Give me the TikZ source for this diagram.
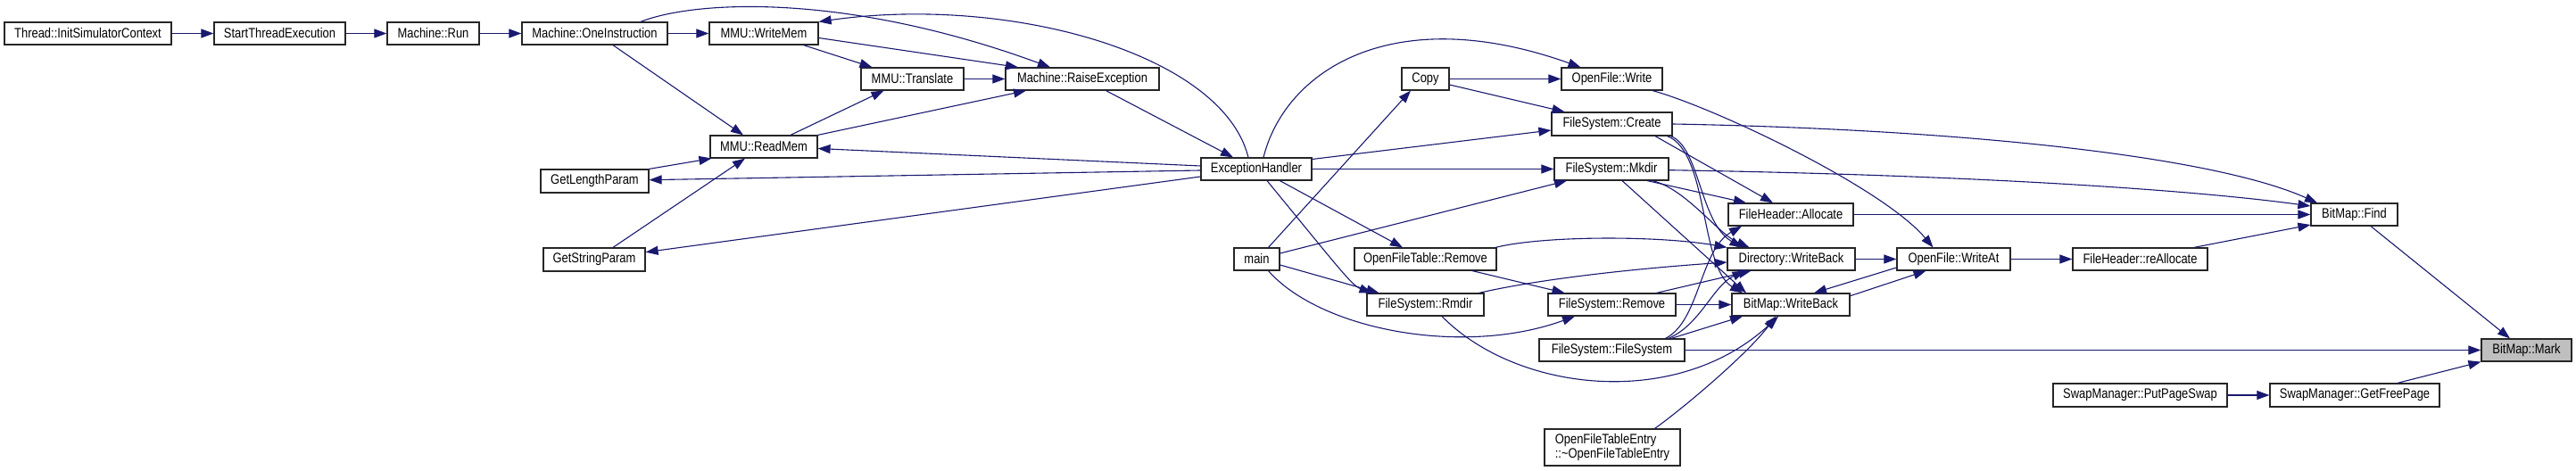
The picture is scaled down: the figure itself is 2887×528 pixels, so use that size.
\documentclass[tikz,border=0pt]{standalone}
\usepackage{fontspec}
\setmainfont{Liberation Sans}[FakeStretch=0.84]
\usetikzlibrary{arrows.meta,calc}
\definecolor{edgec}{HTML}{191970}
\definecolor{markfill}{HTML}{BFBFBF}
\tikzset{
  nbox/.style={draw=black!85, line width=0.6pt, fill=white, inner sep=0pt, text=black,
    font=\fontsize{7.7}{7}\selectfont},
  markbox/.style={fill=markfill},
  edge/.style={draw=edgec, line width=0.55pt, -{Triangle[length=7pt,width=5pt]}},
}
\newcommand\gnode[7][]{%
  \pgfmathsetmacro\gcx{(#3+#5)/2}%
  \pgfmathsetmacro\gcy{(#4+#6)/2}%
  \pgfmathsetmacro\gw{(#5-#3)*0.5}%
  \pgfmathsetmacro\gh{(#6-#4)*0.5}%
  \node[nbox,#1,minimum width=\gw pt,minimum height=\gh pt] (#2) at (\gcx,\gcy) {#7};}
\begin{document}
\begin{tikzpicture}[x=0.5pt,y=-0.5pt]
\useasboundingbox (0,0) rectangle (2887,528);
\gnode{T}{5}{25}{192}{50}{Thread::InitSimulatorContext}
\gnode{STE}{240}{25}{387}{50}{StartThreadExecution}
\gnode{MR}{434}{25}{537}{50}{Machine::Run}
\gnode{OI}{585}{25}{748}{50}{Machine::OneInstruction}
\gnode{WM}{795}{25}{917}{50}{MMU::WriteMem}
\gnode{TR}{965}{76}{1080}{101}{MMU::Translate}
\gnode{RE}{1127}{76}{1299}{101}{Machine::RaiseException}
\gnode{RM}{796}{152}{916}{177}{MMU::ReadMem}
\gnode{GLP}{606}{190}{727}{216}{GetLengthParam}
\gnode{GSP}{609}{278}{723}{304}{GetStringParam}
\gnode{EH}{1346}{177}{1470}{202}{ExceptionHandler}
\gnode{MAIN}{1383}{278}{1434}{303}{main}
\gnode{CP}{1571}{76}{1624}{101}{Copy}
\gnode{OFW}{1750}{76}{1863}{101}{OpenFile::Write}
\gnode{CR}{1739}{126}{1874}{152}{FileSystem::Create}
\gnode{MK}{1742}{177}{1870}{202}{FileSystem::Mkdir}
\gnode{FHA}{1937}{228}{2077}{253}{FileHeader::Allocate}
\gnode{OFTR}{1518}{278}{1677}{303}{OpenFileTable::Remove}
\gnode{DWB}{1936}{278}{2079}{303}{Directory::WriteBack}
\gnode{RD}{1532}{329}{1663}{354}{FileSystem::Rmdir}
\gnode{FSR}{1735}{329}{1878}{354}{FileSystem::Remove}
\gnode{BWB}{1941}{329}{2073}{354}{BitMap::WriteBack}
\gnode{FSFS}{1725}{380}{1888}{405}{FileSystem::FileSystem}
\gnode[align=left]{OFTE}{1731}{481}{1883}{522}{OpenFileTableEntry\\::\textasciitilde OpenFileTableEntry}
\gnode{WA}{2126}{278}{2253}{303}{OpenFile::WriteAt}
\gnode{FRA}{2323}{278}{2474}{303}{FileHeader::reAllocate}
\gnode{BF}{2590}{228}{2687}{253}{BitMap::Find}
\gnode[markbox]{BMK}{2781}{380}{2882}{405}{BitMap::Mark}
\gnode{SPS}{2301}{430}{2496}{456}{SwapManager::PutPageSwap}
\gnode{SGF}{2544}{430}{2734}{456}{SwapManager::GetFreePage}

\draw[edge] (T.east) -- (STE.west);
\draw[edge] (STE.east) -- (MR.west);
\draw[edge] (MR.east) -- (OI.west);
\draw[edge] (OI.east) -- (WM.west);
\draw[edge] ($(OI.south)+(20.5,0)$) -- ($(RM.north)+(-23,0)$);
\draw[edge] ($(OI.north)+(51.5,0)$) .. controls (780,0) and (950,-8) .. ($(RE.north)+(-36,0)$);
\draw[edge] ($(WM.south)+(44.6,0)$) -- ($(TR.north)+(-45,0)$);
\draw[edge] ($(WM.east)+(0,5)$) -- ($(RE.north)+(-72,0)$);
\draw[edge] ($(EH.north)+(-9,0)$) .. controls (1370,60) and (1130,-6) .. (WM.north east);
\draw[edge] (TR.east) -- (RE.west);
\draw[edge] ($(RM.north)+(30,0)$) -- ($(TR.south)+(-32,0)$);
\draw[edge] (RM.north east) -- ($(RE.south)+(-63,0)$);
\draw[edge] ($(RE.south)+(26.5,0)$) -- ($(EH.north)+(-26,0)$);
\draw[edge] ($(EH.west)+(0,-3.5)$) -- ($(RM.east)+(0,2)$);
\draw[edge] ($(EH.west)+(0,1.5)$) -- ($(GLP.east)+(0,-1.3)$);
\draw[edge] ($(EH.west)+(0,8.5)$) -- ($(GSP.east)+(0,-8.3)$);
\draw[edge] (GLP.north east) -- ($(RM.south west)+(2,0)$);
\draw[edge] ($(GSP.north)+(21,0)$) -- ($(RM.south)+(-21,0)$);

\draw[edge] ($(EH.north)+(8,0)$) .. controls (1440,80) and (1560,0) .. ($(OFW.north)+(-35,0)$);
\draw[edge] (CP.east) -- (OFW.west);
\draw[edge] ($(CP.east)+(0,6.5)$) -- ($(CR.north)+(-53,0)$);
\draw[edge] ($(EH.east)+(0,-11)$) -- ($(CR.west)+(0,7)$);
\draw[edge] (EH.east) -- (MK.west);
\draw[edge] ($(EH.south)+(26.4,0)$) -- ($(OFTR.north)+(-25.5,0)$);
\draw[edge] ($(EH.south)+(12,0)$) .. controls (1500,300) and (1515,320) .. ($(RD.north)+(-60,0)$);
\draw[edge] ($(MAIN.north)+(13,0)$) -- ($(CP.south)+(-16.5,0)$);
\draw[edge] ($(MAIN.east)+(0,-6.5)$) -- ($(MK.south)+(-50,0)$);
\draw[edge] ($(MAIN.east)+(0,6.5)$) -- ($(RD.north)+(-52,0)$);
\draw[edge] ($(MAIN.south)+(13,0)$) .. controls (1480,370) and (1640,400) .. ($(FSR.south)+(-41.5,0)$);
\draw[edge] ($(OFTR.north east)+(-1.5,0)$) .. controls (1730,264) and (1860,264) .. (DWB.north west);
\draw[edge] ($(OFTR.south)+(52.5,0)$) -- ($(FSR.north)+(-53,0)$);
\draw[edge] ($(RD.north east)+(-6,0)$) .. controls (1720,314) and (1820,302) .. ($(DWB.west)+(0,3.5)$);
\draw[edge] ($(RD.south)+(18.5,0)$) .. controls (1700,440) and (1880,460) .. ($(BWB.south)+(-14,0)$);
\draw[edge] ($(FSR.north)+(50,0)$) -- ($(DWB.south)+(-45,0)$);
\draw[edge] (FSR.east) -- (BWB.west);
\draw[edge] ($(MK.south)+(40,0)$) -- ($(FHA.north)+(-50,0)$);
\draw[edge] ($(MK.south)+(46,0)$) .. controls (1890,212) and (1925,262) .. ($(DWB.north)+(-47,0)$);
\draw[edge] ($(MK.south)+(12,0)$) -- ($(BWB.north)+(-50,0)$);
\draw[edge] ($(CR.south)+(48.5,0)$) -- ($(FHA.north)+(-20,0)$);
\draw[edge] ($(CR.south)+(66,0)$) .. controls (1905,165) and (1905,250) .. ($(DWB.north)+(-55,0)$);
\draw[edge] ($(CR.south)+(62,0)$) .. controls (1915,170) and (1905,300) .. ($(BWB.north)+(-54,0)$);
\draw[edge] ($(FSFS.north)+(60,0)$) .. controls (1905,360) and (1905,280) .. ($(FHA.south)+(-55,0)$);
\draw[edge] ($(FSFS.north)+(63,0)$) .. controls (1905,365) and (1920,320) .. ($(DWB.south)+(-52,0)$);
\draw[edge] ($(FSFS.north)+(66.5,0)$) -- ($(BWB.south)+(-54,0)$);
\draw[edge] (FSFS.east) -- (BMK.west);
\draw[edge] ($(OFTE.north)+(47.5,0)$) .. controls (1890,455) and (1960,395) .. ($(BWB.south)+(-17,0)$);
\draw[edge] (DWB.east) -- (WA.west);
\draw[edge] ($(WA.west)+(0,9.5)$) -- ($(BWB.north)+(26,0)$);
\draw[edge] ($(BWB.east)+(0,-9.8)$) -- ($(WA.south)+(-31,0)$);
\draw[edge] ($(OFW.south)+(45.5,0)$) .. controls (1920,120) and (2110,210) .. ($(WA.north)+(-23,0)$);
\draw[edge] (CR.east) .. controls (2200,145) and (2480,175) .. ($(BF.north)+(-41.5,0)$);
\draw[edge] ($(MK.east)+(0,1.2)$) .. controls (2200,196) and (2450,212) .. ($(BF.west)+(0,-9.5)$);
\draw[edge] (FHA.east) -- (BF.west);
\draw[edge] (WA.east) -- (FRA.west);
\draw[edge] ($(FRA.north)+(60.5,0)$) -- ($(BF.west)+(0,11.5)$);
\draw[edge] ($(BF.south)+(18.5,0)$) -- ($(BMK.north)+(-18.5,0)$);
\draw[edge] (SPS.east) -- (SGF.west);
\draw[edge] ($(SGF.north)+(48,0)$) -- (BMK.south west);
\end{tikzpicture}
\end{document}
